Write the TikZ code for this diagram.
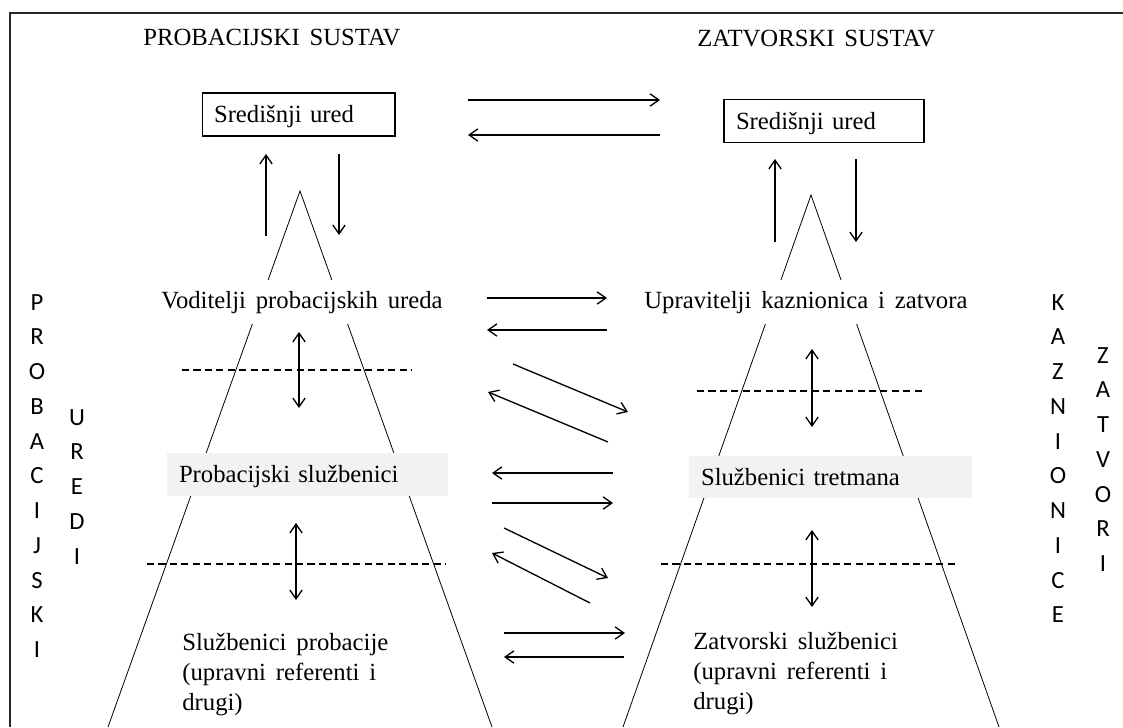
\documentclass[tikz,border=0pt]{standalone}
\usepackage{fontspec}
\setmainfont{Liberation Serif}[WordSpace=1.6]
\newfontfamily\sidefont{Carlito}
\usetikzlibrary{arrows.meta}
\newcommand{\mainsize}{\fontsize{14pt}{17pt}\selectfont}
\newcommand{\sidesize}{\sidefont\fontsize{14pt}{19.7pt}\selectfont}
\definecolor{boxgray}{RGB}{242,242,242}

\begin{document}
\begin{tikzpicture}[x=0.567pt, y=-0.567pt,
    >={Straight Barb[length=5pt,width=7pt]},
    every node/.style={font=\mainsize, inner sep=0pt},
    linkarrow/.style={->, line width=0.75pt},
    updown/.style={<->, line width=0.75pt},
    divider/.style={dash pattern=on 4pt off 2.5pt, line width=0.6pt},
    pyramid/.style={line width=0.45pt},
    office/.style={draw, line width=0.6pt, align=left, inner xsep=6.8pt, text height=9.6pt, text depth=0pt},
    staff/.style={fill=boxgray, align=left, inner xsep=6.8pt, text height=9.6pt, text depth=0pt},
    sidecol/.style={font=\sidesize, align=center, anchor=north}]

    \useasboundingbox (0,0) rectangle (1123,727);
    \draw[line width=1.1pt, black!85] (10,727) -- (10,13) -- (1123,13);

    % pyramids
    \draw[pyramid] (108,727) -- (300,191) -- (492,727);
    \draw[pyramid] (623,727) -- (811,195) -- (999,727);

    \node[anchor=base west] (probtitle) at (143,45) {PROBACIJSKI SUSTAV};
    \node[anchor=base west] (zattitle) at (697,46) {ZATVORSKI SUSTAV};

    \node[office, minimum width=109.4pt, minimum height=24.4pt, text width=95.8pt] (probcentral) at (298.5,114.5) {Središnji ured};
    \node[office, minimum width=113.4pt, minimum height=24.9pt, text width=99.8pt] (zatcentral) at (824,121) {Središnji ured};

    \node[anchor=base west, fill=white, minimum height=25pt, inner xsep=2pt] (probheads) at (157.5,308) {Voditelji probacijskih ureda};
    \node[anchor=base west, fill=white, minimum height=25pt, inner xsep=2pt] (zatheads) at (640.5,308) {Upravitelji kaznionica i zatvora};

    \node[staff, minimum width=159.3pt, minimum height=24.4pt, text width=145.7pt] (probofficers) at (307.5,474.5) {Probacijski službenici};
    \node[staff, minimum width=160.4pt, minimum height=23.8pt, text width=146.8pt] (treatment) at (830.5,477) {Službenici tretmana};

    \node[anchor=north west, align=left] (probclerks) at (182,633) {Službenici probacije\\(upravni referenti i\\drugi)};
    \node[anchor=north west, align=left] (prisonclerks) at (693,632) {Zatvorski službenici\\(upravni referenti i\\drugi)};

    % vertical labels
    \node[sidecol] (probcol) at (37,294) {P\\R\\O\\B\\A\\C\\I\\J\\S\\K\\I};
    \node[sidecol] (uredcol) at (77,409) {U\\R\\E\\D\\I};
    \node[sidecol] (kazcol) at (1058,294) {K\\A\\Z\\N\\I\\O\\N\\I\\C\\E};
    \node[sidecol] (zatcol) at (1103,347) {Z\\A\\T\\V\\O\\R\\I};

    % arrow ends
    \coordinate (cenR1) at (468,100); \coordinate (cenR2) at (660,100);
    \coordinate (cenL1) at (660,135); \coordinate (cenL2) at (468,135);
    \coordinate (probUp1) at (266,236); \coordinate (probUp2) at (266,154);
    \coordinate (probDn1) at (339,154); \coordinate (probDn2) at (339,235);
    \coordinate (zatUp1) at (775,242); \coordinate (zatUp2) at (775,159);
    \coordinate (zatDn1) at (856,159); \coordinate (zatDn2) at (856,242);
    \coordinate (headR1) at (487,298); \coordinate (headR2) at (607,298);
    \coordinate (headL1) at (607,330); \coordinate (headL2) at (487,330);
    \coordinate (diagA1) at (513,364); \coordinate (diagA2) at (628,412);
    \coordinate (diagB1) at (608,442); \coordinate (diagB2) at (488,392);
    \coordinate (midL1) at (613,473); \coordinate (midL2) at (492,473);
    \coordinate (midR1) at (492,503); \coordinate (midR2) at (613,503);
    \coordinate (diagC1) at (504,528); \coordinate (diagC2) at (608,578);
    \coordinate (diagD1) at (590,603); \coordinate (diagD2) at (492,553);
    \coordinate (lowR1) at (504,633); \coordinate (lowR2) at (625,633);
    \coordinate (lowL1) at (624,657); \coordinate (lowL2) at (504,657);
    \coordinate (probA1) at (299,332); \coordinate (probA2) at (299,408);
    \coordinate (probB1) at (296,523); \coordinate (probB2) at (296,600);
    \coordinate (zatA1) at (812,349); \coordinate (zatA2) at (812,427);
    \coordinate (zatB1) at (812,530); \coordinate (zatB2) at (812,607);
    \coordinate (probD1) at (182,370); \coordinate (probD2) at (412,370);
    \coordinate (probE1) at (147,564); \coordinate (probE2) at (446,564);
    \coordinate (zatD1) at (697,391); \coordinate (zatD2) at (924,391);
    \coordinate (zatE1) at (661,564); \coordinate (zatE2) at (957,564);

    \draw[divider] (probD1) -- (probD2);
    \draw[divider] (probE1) -- (probE2);
    \draw[divider] (zatD1) -- (zatD2);
    \draw[divider] (zatE1) -- (zatE2);

    \draw[linkarrow] (cenR1) -- (cenR2);
    \draw[linkarrow] (cenL1) -- (cenL2);
    \draw[linkarrow] (probUp1) -- (probUp2);
    \draw[linkarrow] (probDn1) -- (probDn2);
    \draw[linkarrow] (zatUp1) -- (zatUp2);
    \draw[linkarrow] (zatDn1) -- (zatDn2);
    \draw[linkarrow] (headR1) -- (headR2);
    \draw[linkarrow] (headL1) -- (headL2);
    \draw[linkarrow] (diagA1) -- (diagA2);
    \draw[linkarrow] (diagB1) -- (diagB2);
    \draw[linkarrow] (midL1) -- (midL2);
    \draw[linkarrow] (midR1) -- (midR2);
    \draw[linkarrow] (diagC1) -- (diagC2);
    \draw[linkarrow] (diagD1) -- (diagD2);
    \draw[linkarrow] (lowR1) -- (lowR2);
    \draw[linkarrow] (lowL1) -- (lowL2);

    \draw[updown] (probA1) -- (probA2);
    \draw[updown] (probB1) -- (probB2);
    \draw[updown] (zatA1) -- (zatA2);
    \draw[updown] (zatB1) -- (zatB2);
  \end{tikzpicture}
\end{document}
